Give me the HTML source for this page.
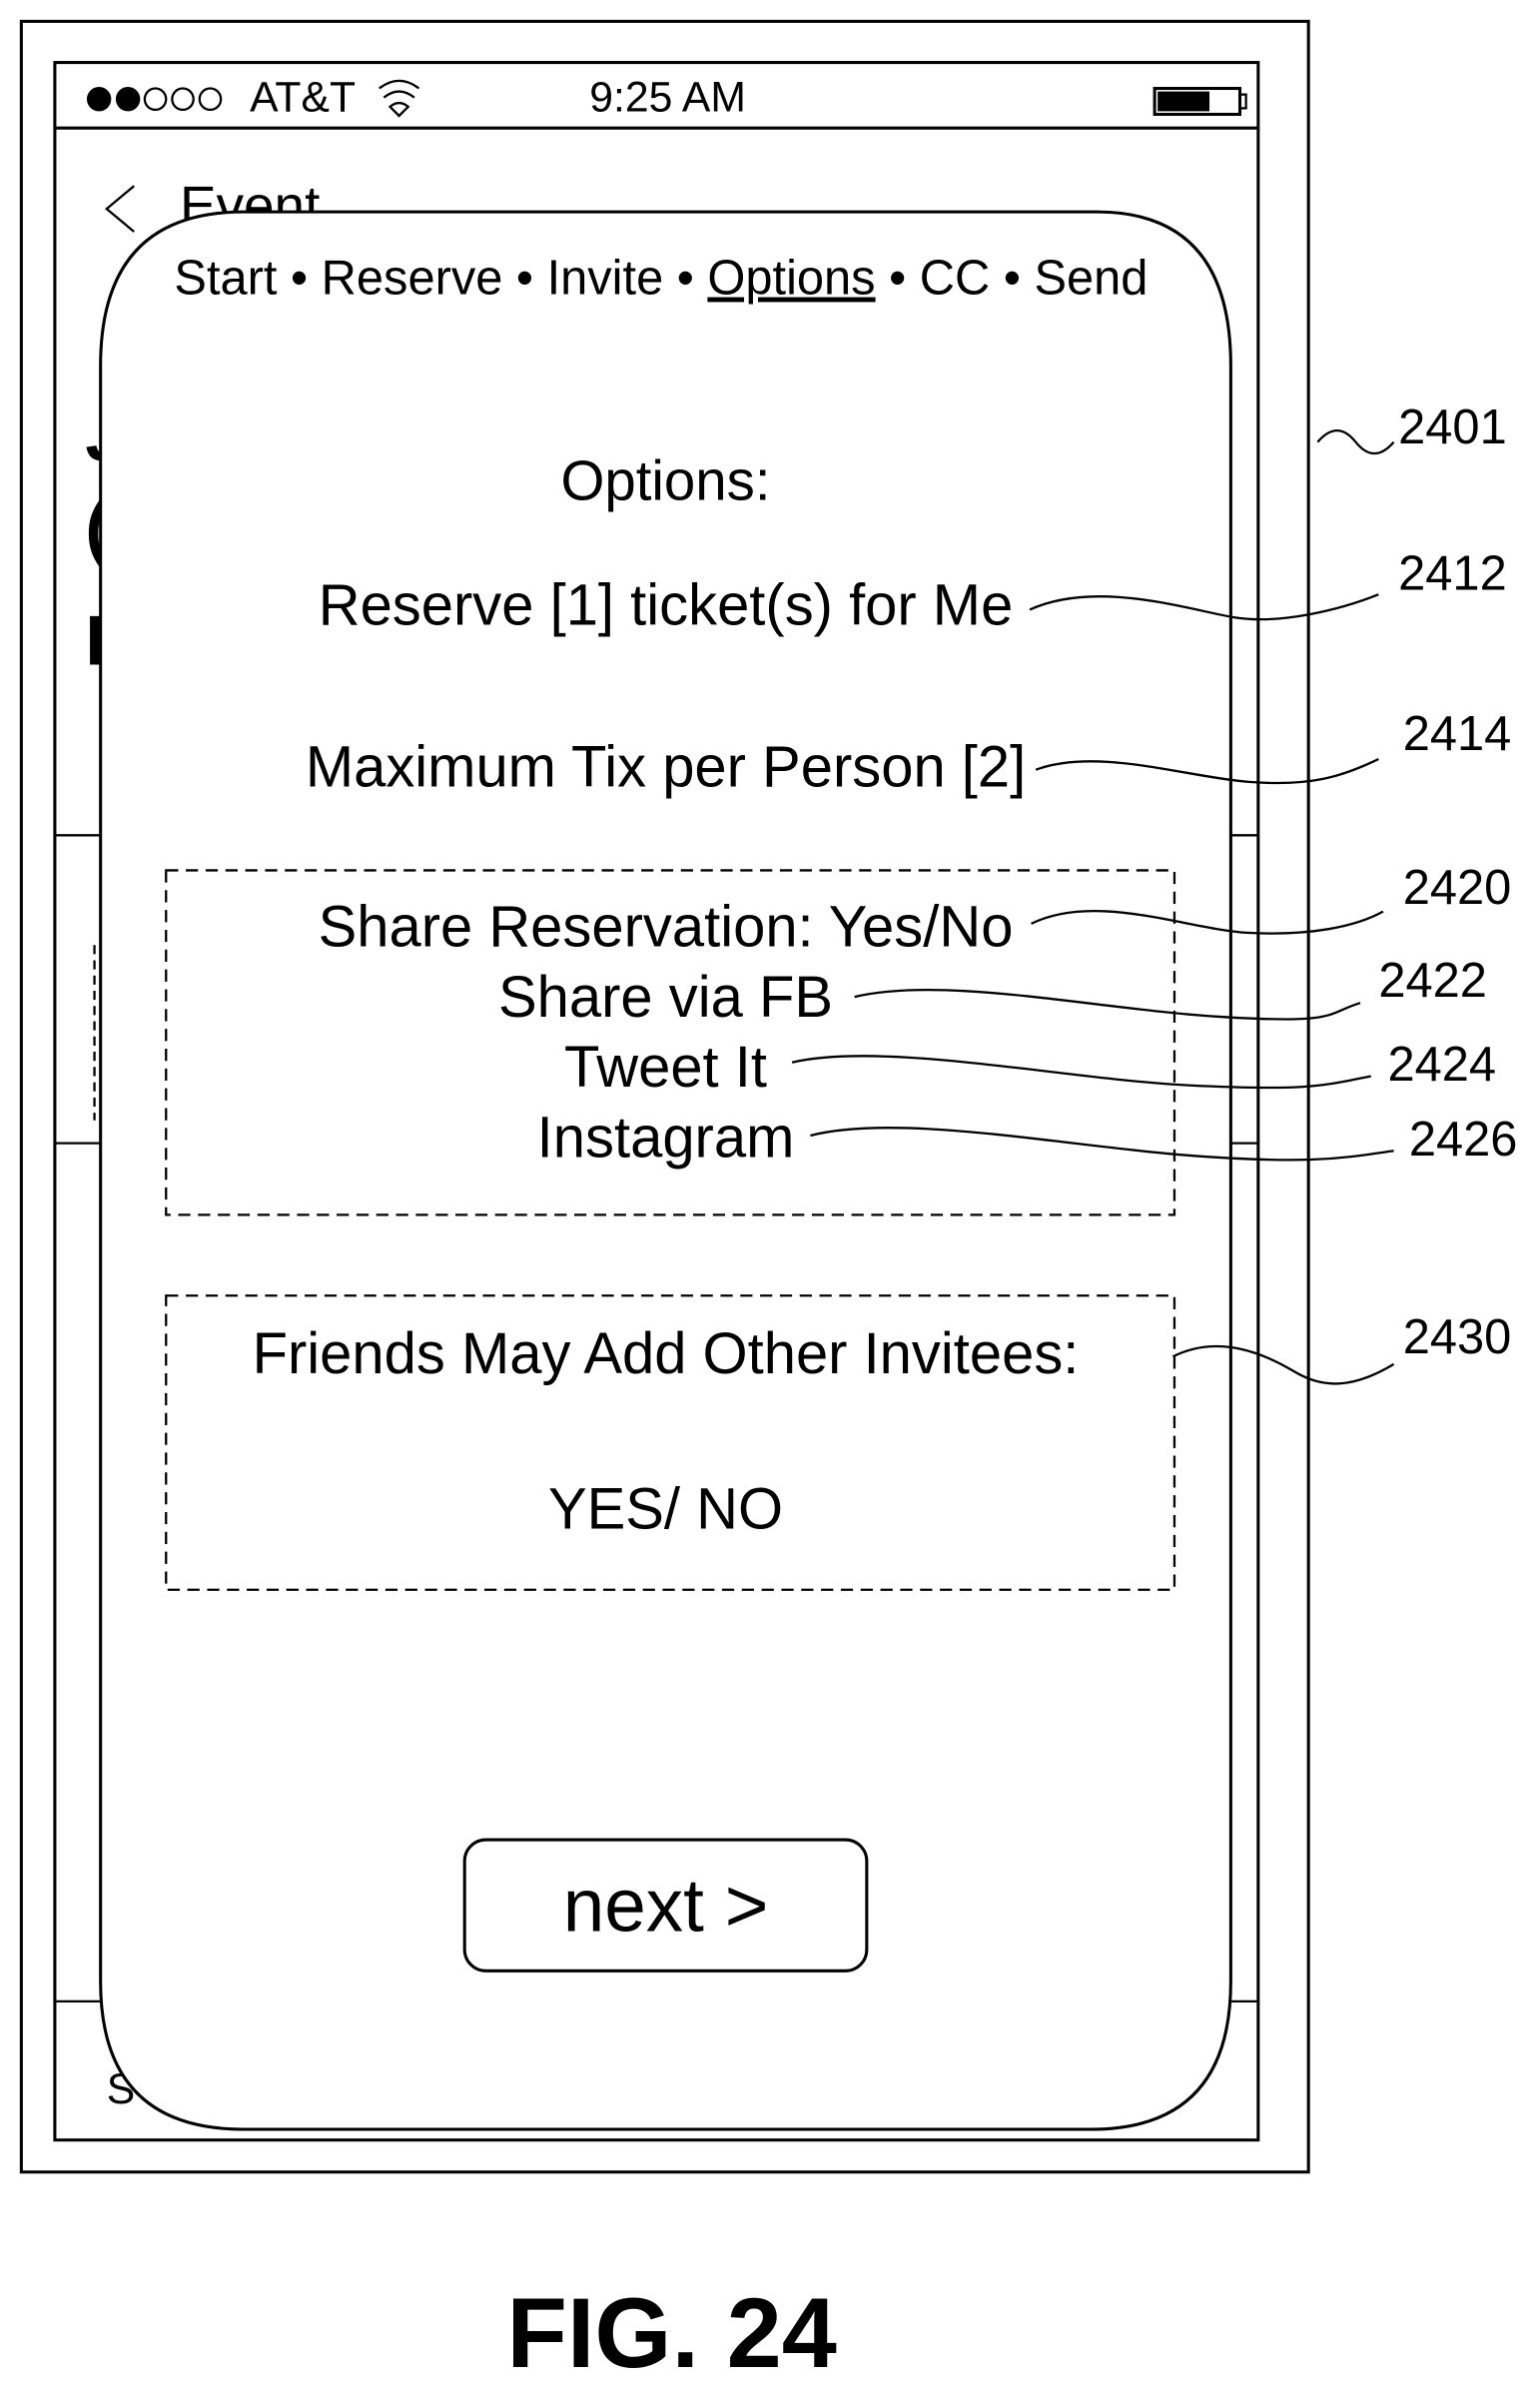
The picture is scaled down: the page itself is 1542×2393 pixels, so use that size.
<!DOCTYPE html>
<html><head><style>html,body{margin:0;padding:0;background:#fff}svg{display:block}</style></head>
<body>
<svg width="1542" height="2393" viewBox="0 0 1011 1568" preserveAspectRatio="none" xmlns="http://www.w3.org/2000/svg" font-family="Liberation Sans, Arial, sans-serif">
<g fill="none" stroke="#000" stroke-width="2">
<rect x="14" y="14" width="845" height="1411"/>
<rect x="36" y="41" width="790" height="1363"/>
<line x1="36" y1="84" x2="826" y2="84"/>
<line x1="36" y1="548" x2="70" y2="548" stroke-width="1.5"/>
<line x1="804" y1="548" x2="826" y2="548" stroke-width="1.5"/>
<line x1="36" y1="750" x2="70" y2="750" stroke-width="1.5"/>
<line x1="804" y1="750" x2="826" y2="750" stroke-width="1.5"/>
<line x1="36" y1="1313" x2="70" y2="1313" stroke-width="1.5"/>
<line x1="804" y1="1313" x2="826" y2="1313" stroke-width="1.5"/>
<path d="M62 620 V735" stroke-dasharray="6 4" stroke-width="1.5"/>
<path d="M88 122 L70 137 L88 152" stroke-width="1.5"/>
<rect x="758" y="58" width="56" height="17" stroke-width="2"/>
<rect x="814" y="62" width="4" height="9" stroke-width="1.5"/>
<path d="M865 290 Q878 275 890 290 T915 290" stroke-width="1.5"/>
</g>
<rect x="760" y="60" width="34" height="13" fill="#000"/>
<g fill="#000">
<circle cx="65" cy="65" r="8"/><circle cx="84" cy="65" r="8"/>
</g>
<g fill="none" stroke="#000" stroke-width="1.5">
<circle cx="102" cy="65" r="7"/><circle cx="120" cy="65" r="7"/><circle cx="138" cy="65" r="7"/>
<path d="M249 58 Q262 48 275 58 M252 64 Q262 56 272 64 M256 70 Q262 65 268 70 L262 76 Z"/>
</g>
<g fill="#000" font-size="28">
<text x="164" y="73">AT&amp;T</text>
<text x="387" y="73">9:25 AM</text>
<text x="118" y="147" font-size="36">Event</text>
<text x="56" y="302" font-size="46" font-weight="bold">J</text>
<text x="56" y="362" font-size="46" font-weight="bold">(</text>
<text x="56" y="436" font-size="46" font-weight="bold">I</text>
<text x="70" y="1380" font-size="28">S</text>
</g>
<path d="M66 1300 V240 Q66 139 160 139 H720 Q808 139 808 240 V1300 Q808 1397 716 1397 H160 Q66 1397 66 1300 Z" fill="#fff" stroke="#000" stroke-width="2"/>
<g fill="none" stroke="#000">
<rect x="109" y="571" width="662" height="226" stroke-dasharray="8 5" stroke-width="1.5"/>
<rect x="109" y="850" width="662" height="193" stroke-dasharray="8 5" stroke-width="1.5"/>
<rect x="305" y="1207" width="264" height="86" rx="14" stroke-width="2"/>
<g stroke-width="1.5">
<path d="M676 400 C720 380 780 400 810 405 S880 400 905 390"/>
<path d="M680 505 C720 490 780 510 820 513 S880 510 905 498"/>
<path d="M677 606 C720 585 780 610 820 612 S890 608 908 598"/>
<path d="M561 654 C620 640 720 662 800 667 S870 665 893 658"/>
<path d="M520 697 C580 683 700 708 780 712 S870 712 900 706"/>
<path d="M532 745 C590 730 700 752 780 758 S880 760 915 755"/>
<path d="M770 890 C800 875 830 888 850 900 S890 910 915 895"/>
</g>
</g>
<g fill="#000" text-anchor="middle">
<text x="434" y="193" font-size="32">Start •  Reserve  • Invite • <tspan text-decoration="underline">Options</tspan>  • CC • Send</text>
<text x="437" y="328" font-size="37">Options:</text>
<text x="437" y="410" font-size="38">Reserve [1] ticket(s) for Me</text>
<text x="437" y="516" font-size="38">Maximum Tix per Person [2]</text>
<text x="437" y="621" font-size="38">Share Reservation: Yes/No</text>
<text x="437" y="667" font-size="38">Share via FB</text>
<text x="437" y="713" font-size="38">Tweet It</text>
<text x="437" y="759" font-size="38">Instagram</text>
<text x="437" y="901" font-size="38">Friends May Add Other Invitees:</text>
<text x="437" y="1003" font-size="38">YES/ NO</text>
<text x="437" y="1267" font-size="49">next &gt;</text>
<text x="441" y="1553" font-size="65" font-weight="bold">FIG. 24</text>
</g>
<g fill="#000" font-size="32">
<text x="918" y="291">2401</text>
<text x="918" y="387">2412</text>
<text x="921" y="492">2414</text>
<text x="921" y="593">2420</text>
<text x="905" y="654">2422</text>
<text x="911" y="709">2424</text>
<text x="925" y="758">2426</text>
<text x="921" y="888">2430</text>
</g>
</svg>
</body></html>
